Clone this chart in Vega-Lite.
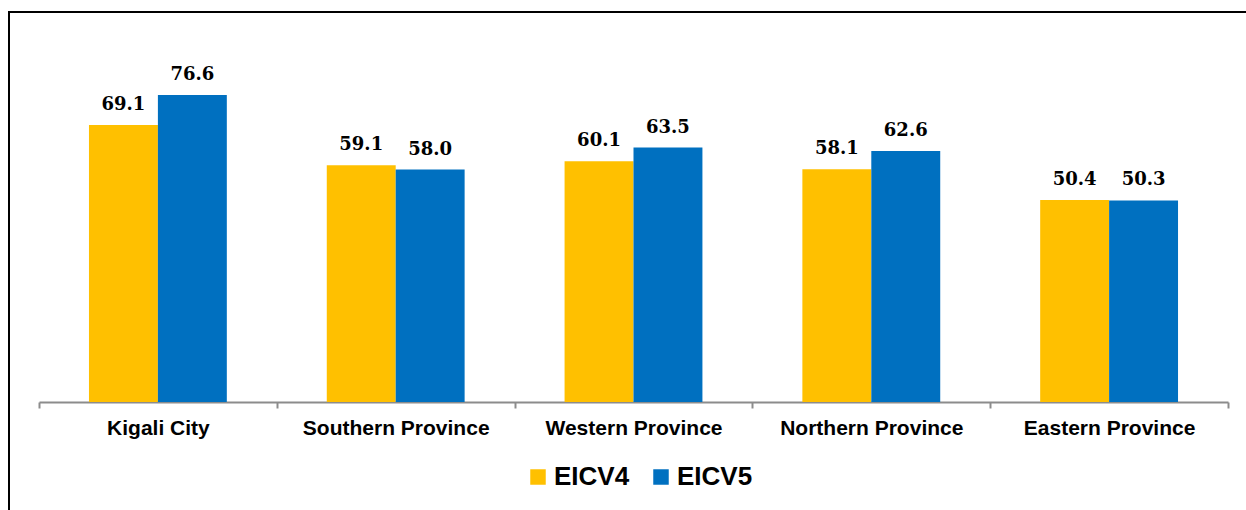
{
  "$schema": "https://vega.github.io/schema/vega-lite/v6.json",
  "width": 1240,
  "height": 501,
  "autosize": {"type": "none"},
  "padding": {"left": 9, "top": 12, "right": -3, "bottom": -3},
  "background": "white",
  "config": {
    "view": {"stroke": "black", "strokeWidth": 2},
    "font": "Liberation Sans"
  },
  "data": {
    "values": [
      {"region": "Kigali City", "survey": "EICV4", "value": 69.1},
      {"region": "Kigali City", "survey": "EICV5", "value": 76.6},
      {"region": "Southern Province", "survey": "EICV4", "value": 59.1},
      {"region": "Southern Province", "survey": "EICV5", "value": 58.0},
      {"region": "Western Province", "survey": "EICV4", "value": 60.1},
      {"region": "Western Province", "survey": "EICV5", "value": 63.5},
      {"region": "Northern Province", "survey": "EICV4", "value": 58.1},
      {"region": "Northern Province", "survey": "EICV5", "value": 62.6},
      {"region": "Eastern Province", "survey": "EICV4", "value": 50.4},
      {"region": "Eastern Province", "survey": "EICV5", "value": 50.3}
    ]
  },
  "encoding": {
    "x": {
      "field": "region",
      "type": "nominal",
      "sort": null,
      "scale": {"range": [30, 1219], "paddingInner": 0, "paddingOuter": 0},
      "axis": {
        "orient": "bottom",
        "offset": -111,
        "title": null,
        "labelAngle": 0,
        "labelLimit": 400,
        "domainColor": "#8c8c8c",
        "domainWidth": 2,
        "tickColor": "#8c8c8c",
        "tickWidth": 2,
        "tickSize": 6,
        "tickBand": "extent",
        "labelFont": "Liberation Sans",
        "labelFontWeight": "bold",
        "labelFontSize": 21,
        "labelColor": "black",
        "labelPadding": 9
      }
    },
    "xOffset": {
      "field": "survey",
      "type": "nominal",
      "scale": {"paddingOuter": 0.725, "paddingInner": 0}
    },
    "y": {
      "field": "value",
      "type": "quantitative",
      "scale": {"domain": [0, 90], "range": [390, 29.3]},
      "axis": null
    }
  },
  "layer": [
    {
      "mark": {"type": "bar"},
      "encoding": {
        "color": {
          "field": "survey",
          "type": "nominal",
          "scale": {"domain": ["EICV4", "EICV5"], "range": ["#FFC000", "#0070C0"]},
          "legend": {
            "orient": "none",
            "legendX": 516,
            "legendY": 452,
            "direction": "horizontal",
            "title": null,
            "padding": 0,
            "symbolType": "square",
            "symbolSize": 240,
            "symbolStrokeWidth": 0,
            "symbolOpacity": 1,
            "labelFont": "Liberation Sans",
            "labelFontWeight": "bold",
            "labelFontSize": 26,
            "labelColor": "black",
            "labelOffset": 3,
            "columnPadding": 18
          }
        }
      }
    },
    {
      "mark": {
        "type": "text",
        "dy": -15,
        "baseline": "alphabetic",
        "font": "DejaVu Serif",
        "fontWeight": "bold",
        "fontSize": 18,
        "fill": "black"
      },
      "encoding": {
        "text": {"field": "value", "type": "quantitative", "format": ".1f"}
      }
    }
  ]
}
